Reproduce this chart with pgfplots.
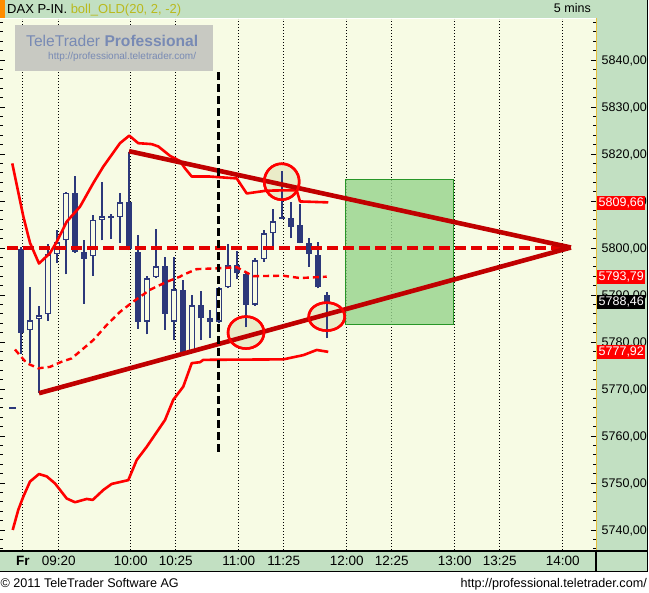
\documentclass[border=0pt]{standalone}
\usepackage{pgfplots}
\pgfplotsset{compat=1.18}
\usepackage{pgfplotstable}
\usepackage{fontspec}
\setmainfont{Liberation Sans}
\definecolor{bgy}{RGB}{247,251,228}
\definecolor{pan}{RGB}{194,224,194}
\definecolor{candle}{RGB}{44,56,122}
\definecolor{bandred}{RGB}{255,0,0}
\definecolor{dashred}{RGB}{228,0,0}
\definecolor{trired}{RGB}{192,0,0}
\definecolor{boxg}{RGB}{150,212,140}
\definecolor{boxgd}{RGB}{40,150,40}
\definecolor{wmgray}{RGB}{200,201,194}
\definecolor{wmblue}{RGB}{120,138,180}
\definecolor{olivet}{RGB}{185,185,30}
\definecolor{circfill}{RGB}{234,236,200}
\definecolor{hdrorange}{RGB}{255,140,0}
\definecolor{panline}{RGB}{230,190,60}

% down (filled) candles: k open high low close
\pgfplotstableread{
k o h l c
0 5799.8 5800.2 5777.4 5782.0
6 5811.7 5815.3 5799.0 5799.2
7 5799.1 5801.7 5788.1 5797.7
10 5806.7 5807.2 5801.9 5806.3
12 5809.7 5820.5 5799.5 5799.7
13 5799.1 5802.7 5782.8 5784.3
16 5796.1 5798.0 5782.6 5786.0
18 5791.1 5793.2 5777.5 5777.9
20 5787.8 5790.9 5780.4 5785.0
21 5785.0 5786.8 5780.9 5784.3
24 5796.3 5799.4 5793.3 5794.6
25 5794.4 5794.6 5783.1 5787.9
29 5806.6 5816.4 5806.1 5806.2
30 5806.3 5809.7 5802.1 5804.5
31 5804.9 5809.4 5801.0 5801.1
32 5801.0 5802.1 5796.0 5798.7
33 5798.4 5801.2 5791.4 5791.6
34 5790.0 5790.7 5780.8 5788.46
}\downtab
% up (hollow) candles
\pgfplotstableread{
k o h l c
1 5782.5 5791.8 5775.5 5784.6
2 5784.9 5787.7 5769.1 5785.7
3 5785.9 5800.8 5784.5 5798.7
4 5798.7 5803.8 5796.9 5801.2
5 5801.6 5811.9 5794.4 5811.7
8 5798.2 5807.0 5794.1 5806.0
9 5806.0 5814.0 5801.6 5806.7
11 5806.5 5811.6 5801.1 5809.7
14 5784.3 5794.0 5781.6 5793.6
15 5793.8 5804.1 5793.7 5796.1
17 5784.3 5798.0 5780.4 5791.2
19 5777.9 5789.9 5777.7 5787.8
22 5784.3 5791.6 5784.0 5791.4
23 5791.6 5800.8 5791.4 5796.3
26 5787.9 5797.8 5787.7 5797.4
27 5797.6 5803.8 5797.1 5803.1
28 5803.1 5808.2 5800.3 5805.7
}\uptab

\pgfplotsset{
  cbar/.style={draw=none, mark=none, error bars/.cd, y dir=plus, y explicit, error mark=none,
    error bar style={line cap=butt, #1}},
}

\begin{document}
\begin{tikzpicture}
\begin{scope}[x=1pt,y=-1pt]
  \fill[white] (0,0) rectangle (649,593);
  \fill[pan] (0,0) rectangle (647,18);
  \fill[hdrorange] (0,0) rectangle (5,18);
  \fill[pan] (596,18) rectangle (647,551);
  \fill[pan] (0,551) rectangle (647,572);
\end{scope}
\begin{axis}[
  at={(0pt,-550pt)}, anchor=south west,
  scale only axis, width=596pt, height=531pt,
  xmin=-2.333, xmax=63.889, ymin=5735.74, ymax=5848.72,
  axis background/.style={fill=bgy},
  axis line style={draw=none},
  xtick={0.2,4.2,12.2,17.2,24.2,29.2,36.2,41.2,48.2,53.2,60.2},
  xticklabels={\textbf{Fr},09:20,10:00,10:25,11:00,11:25,12:00,12:25,13:00,13:25,14:00},
  xtick style={draw=none},
  xmajorgrids,
  major grid style={black, line width=0.9pt, dash pattern=on 0.9pt off 2.1pt},
  xticklabel style={font=\fontsize{13.5}{14}\selectfont, anchor=base, yshift=-15.5pt, inner sep=0pt},
  ytick={5730,5740,...,5850},
  minor y tick num=4,
  scaled y ticks=false,
  tick align=inside,
  ytick pos=both,
  yticklabel pos=right,
  major tick length=5pt, minor tick length=3pt,
  ytick style={black, line width=0.8pt},
  yticklabel style={font=\fontsize{12.5}{13}\selectfont, anchor=base west, xshift=5.5pt, yshift=-4.5pt, inner sep=0pt},
  yticklabel={\pgfmathprintnumber[fixed,fixed zerofill,precision=2,use comma,1000 sep={}]{\tick}},
  /pgf/number format/assume math mode=true,
  every axis plot/.append style={mark=none},
]
% target box
\addplot[draw=boxgd, line width=1pt, fill=boxg, fill opacity=0.8] coordinates {(36,5783.8) (48,5783.8) (48,5814.5) (36,5814.5)} -- cycle;
% circles (behind the lines)
\draw[bandred, line width=2.5pt, fill=circfill] (axis cs:28.97,5814.1) ellipse [x radius=17.5pt, y radius=18pt];
\draw[bandred, line width=2.5pt, fill=circfill] (axis cs:25.0,5782.0) ellipse [x radius=18pt, y radius=16pt];
\draw[bandred, line width=2.5pt, fill=circfill] (axis cs:33.97,5785.4) ellipse [x radius=18pt, y radius=14pt];
% previous close marker
\addplot[candle, line width=2pt] coordinates {(-1.33,5766) (-0.56,5766)};
% wicks
\addplot[cbar={candle, line width=2pt}] table[x=k, y=l, y error expr=\thisrow{h}-\thisrow{l}] {\downtab};
\addplot[cbar={candle, line width=2pt}] table[x=k, y=l, y error expr=\thisrow{h}-\thisrow{l}] {\uptab};
% bodies
\addplot[cbar={candle, line width=6.5pt}] table[x=k, y=c, y error expr=\thisrow{o}-\thisrow{c}] {\downtab};
\addplot[cbar={candle, line width=6.5pt}] table[x=k, y=o, y error expr=\thisrow{c}-\thisrow{o}] {\uptab};
\addplot[cbar={bgy, line width=3.5pt}] table[x=k, y expr=\thisrow{o}+0.32, y error expr=\thisrow{c}-\thisrow{o}-0.64] {\uptab};
% Bollinger upper
\addplot[bandred, line width=2.6pt, line join=round] coordinates {
(-0.97,5818.0) (0.26,5806.7) (1.0,5801.1) (2.0,5796.7) (3.22,5798.9) (3.97,5801.3)
(5.08,5805.6) (6.56,5808.8) (8.03,5813.8) (9.14,5817.3) (11.0,5822.3) (12.03,5823.9)
(13.03,5822.3) (14.52,5822.1) (15.26,5821.6) (16.56,5819.6) (17.67,5818.5) (18.2,5817.0)
(18.97,5815.2) (21.0,5815.2) (23.97,5814.8) (25.08,5811.6) (27.3,5812.2) (30.63,5812.3)
(31.0,5809.9) (34.14,5809.7)};
% Bollinger middle
\addplot[bandred, line width=2.4pt, dash pattern=on 6pt off 4pt] coordinates {
(-0.67,5778.4) (0.63,5775.5) (1.92,5774.4) (3.22,5774.7) (4.52,5775.8) (5.63,5776.5)
(6.74,5778.3) (8.03,5780.4) (9.52,5783.6) (11.0,5786.4) (12.48,5788.6) (14.33,5791.1)
(16.19,5792.8) (17.67,5793.9) (18.03,5794.3) (19.52,5795.5) (22.1,5795.7) (23.97,5795.9)
(25.81,5794.0) (29.14,5794.1) (31.0,5793.6) (33.97,5793.9)};
% Bollinger lower
\addplot[bandred, line width=2.6pt, line join=round] coordinates {
(-0.92,5740.0) (-0.3,5744.3) (0.26,5747.1) (1.0,5750.3) (2.0,5751.9) (2.86,5751.4)
(3.78,5749.9) (5.08,5746.7) (6.0,5745.9) (7.3,5746.6) (7.97,5746.4) (9.14,5748.5)
(10.08,5749.8) (11.92,5750.6) (12.86,5754.9) (13.97,5757.7) (16.0,5763.4) (16.92,5767.7)
(18.03,5770.5) (18.97,5775.5) (19.89,5775.7) (20.26,5776.2) (29.14,5776.3) (31.37,5777.2)
(32.86,5778.3) (34.14,5777.9)};
% 5800 dashed level
\addplot[dashred, line width=4pt, dash pattern=on 11pt off 5pt] coordinates {(-1.5,5800) (61.1,5800)};
% triangle
\addplot[trired, line width=4.6pt] coordinates {(12,5820.6) (61.1,5800.1)};
\addplot[trired, line width=4.6pt] coordinates {(2,5769.1) (61.1,5800.1)};
% vertical black dashed
\addplot[black, line width=3pt, dash pattern=on 8pt off 4pt] coordinates {(22,5837.4) (22,5756.6)};
% circle outlines on top
\draw[bandred, line width=2.5pt] (axis cs:28.97,5814.1) ellipse [x radius=17.5pt, y radius=18pt];
\draw[bandred, line width=2.5pt] (axis cs:25.0,5782.0) ellipse [x radius=18pt, y radius=16pt];
\draw[bandred, line width=2.5pt] (axis cs:33.97,5785.4) ellipse [x radius=18pt, y radius=14pt];
\coordinate (tA) at (axis cs:63.889,5809.66);
\coordinate (tB) at (axis cs:63.889,5793.79);
\coordinate (tC) at (axis cs:63.889,5788.46);
\coordinate (tD) at (axis cs:63.889,5777.92);
\end{axis}
% price tags
\begin{scope}[every node/.style={anchor=west, inner xsep=1.5pt, inner ysep=0pt, minimum height=14pt, text=white, font=\fontsize{12.5}{13}\selectfont}]
\node[fill=red] at ([xshift=1pt]tA) {5809,66};
\node[fill=red] at ([xshift=1pt]tB) {5793,79};
\node[fill=black] at ([xshift=1pt]tC) {5788,46};
\node[fill=red] at ([xshift=1pt]tD) {5777,92};
\end{scope}
\begin{scope}[x=1pt,y=-1pt]
  % header text
  \node[anchor=base west, inner sep=0pt, font=\fontsize{13}{14}\selectfont] at (7,14) {DAX P-IN. \textcolor{olivet}{boll\_OLD(20, 2, -2)}};
  \node[anchor=base east, inner sep=0pt, font=\fontsize{12.5}{14}\selectfont] at (591,13) {5 mins};
  % watermark
  \fill[wmgray] (15,25) rectangle (213,71);
  \node[anchor=base west, inner sep=0pt, text=wmblue, font=\fontsize{15.6}{18}\selectfont] at (26,46.5) {TeleTrader \textbf{Professional}};
  \node[anchor=base west, inner sep=0pt, text=wmblue, font=\fontsize{10}{11}\selectfont] at (48,59.5) {http://professional.teletrader.com/};
  % footer
  \node[anchor=base west, inner sep=0pt, font=\fontsize{12.6}{14}\selectfont] at (0.5,587.5) {© 2011 TeleTrader Software AG};
  \node[anchor=base east, inner sep=0pt, font=\fontsize{12.6}{14}\selectfont] at (647,587.5) {http://professional.teletrader.com/};
  % borders
  \draw[panline, line width=1pt] (596.5,18) -- (596.5,551);
  \draw[black, line width=1.3pt] (0,551) -- (647,551);
  \draw[black, line width=1pt] (0,572) -- (647,572);
  \draw[black, line width=1.2pt] (596,551) -- (596,572);
  \draw[black, line width=1.5pt] (647.5,0) -- (647.5,572);
\end{scope}
\pgfresetboundingbox
\path[use as bounding box] (0,0) rectangle (649pt,-593pt);
\end{tikzpicture}
\end{document}
